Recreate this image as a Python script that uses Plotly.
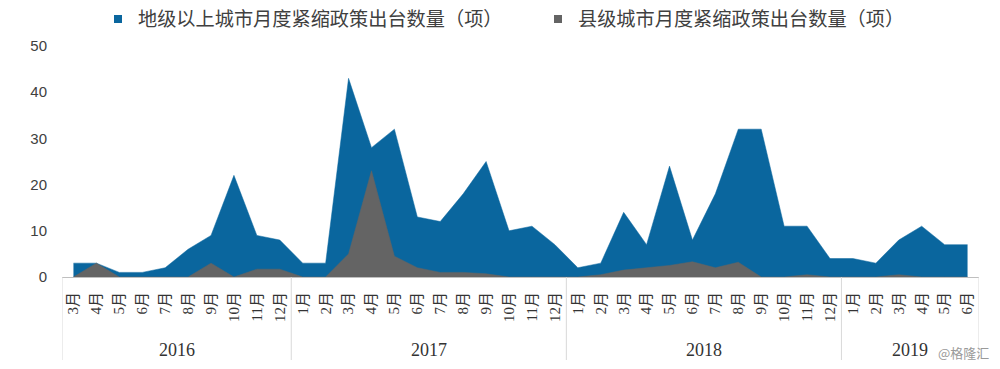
import plotly.graph_objects as go

# ---- data ----
years = ["2016", "2017", "2018", "2019"]
months_2016 = ["3月", "4月", "5月", "6月", "7月", "8月", "9月", "10月", "11月", "12月"]
months_2017 = ["1月", "2月", "3月", "4月", "5月", "6月", "7月", "8月", "9月", "10月", "11月", "12月"]
months_2018 = ["1月", "2月", "3月", "4月", "5月", "6月", "7月", "8月", "9月", "10月", "11月", "12月"]
months_2019 = ["1月", "2月", "3月", "4月", "5月", "6月"]

prefecture_counts = [3, 3, 1, 1, 2, 6, 9, 22, 9, 8,
                     3, 3, 43, 28, 32, 13, 12, 18, 25, 10, 11, 7,
                     2, 3, 14, 7, 24, 8, 18, 32, 32, 11, 11, 4,
                     4, 3, 8, 11, 7, 7]
county_counts = [0, 3, 0, 0, 0, 0, 3, 0, 1.7, 1.7,
                 0, 0, 5, 23, 4.5, 2, 1, 1, 0.7, 0, 0, 0,
                 0, 0.5, 1.5, 2, 2.5, 3.3, 2, 3.2, 0, 0, 0.5, 0,
                 0, 0, 0.5, 0, 0, 0]

series_names = ["地级以上城市月度紧缩政策出台数量（项）", "县级城市月度紧缩政策出台数量（项）"]
y_ticks = [0, 10, 20, 30, 40, 50]

# ---- build ----
month_groups = [months_2016, months_2017, months_2018, months_2019]
labels = [m for g in month_groups for m in g]
xs = list(range(len(labels)))

BLUE = "#0A669E"
GRAY = "#646464"

W, H = 1000, 369
L, R, T, B = 62, 979, 46, 277
PW, PH = R - L, B - T


def px_(pix):
    return (pix - L) / PW


def py(pix):
    return (B - pix) / PH


fig = go.Figure()
fig.add_trace(go.Scatter(x=xs, y=prefecture_counts, mode="lines", fill="tozeroy",
                         line=dict(color=BLUE, width=0.5), fillcolor=BLUE,
                         showlegend=False, hoverinfo="skip"))
fig.add_trace(go.Scatter(x=xs, y=county_counts, mode="lines", fill="tozeroy",
                         line=dict(color=GRAY, width=0.5), fillcolor=GRAY,
                         showlegend=False, hoverinfo="skip"))
# legend entries with square symbols
for name, col, lg in zip(series_names, [BLUE, GRAY], ["legend", "legend2"]):
    fig.add_trace(go.Scatter(x=[None], y=[None], mode="markers", name=name, legend=lg,
                             marker=dict(symbol="square", size=8, color=col)))

# year group separators and labels
start = 0
bounds = [-0.5]
for g in month_groups:
    start += len(g)
    bounds.append(start - 0.5)
for b in bounds:
    fig.add_shape(type="line", xref="x", yref="paper", x0=b, x1=b, y0=0, y1=py(360),
                  line=dict(color="#D9D9D9", width=1))
for i, yr in enumerate(years):
    cx = (bounds[i] + bounds[i + 1]) / 2
    fig.add_annotation(x=cx, xref="x", y=py(350), yref="paper", text=yr, showarrow=False,
                       font=dict(family="Liberation Serif, DejaVu Serif", size=18, color="#333333"),
                       yanchor="middle")

fig.add_annotation(xref="paper", yref="paper", x=px_(991), y=py(352), text="@格隆汇",
                   showarrow=False, xanchor="right", yanchor="middle",
                   font=dict(family="Noto Sans CJK SC", size=13, color="#9A9A9A"))

legend_font = dict(family="Noto Sans CJK SC", size=19.2, color="#404040")
fig.update_layout(
    width=W, height=H,
    margin=dict(l=L, r=W - R, t=T, b=H - B, autoexpand=False),
    plot_bgcolor="white", paper_bgcolor="white",
    legend=dict(orientation="h", x=px_(98), xanchor="left", y=py(0), yanchor="top",
                font=legend_font, bgcolor="rgba(0,0,0,0)", borderwidth=0),
    legend2=dict(orientation="h", x=px_(538), xanchor="left", y=py(0), yanchor="top",
                 font=legend_font, bgcolor="rgba(0,0,0,0)", borderwidth=0),
    xaxis=dict(range=[-0.5, len(labels) - 0.5], tickmode="array", tickvals=xs, ticktext=labels,
               tickangle=-90, showgrid=False, zeroline=False, showline=True, linecolor="#BFBFBF",
               linewidth=1, ticks="", automargin=False, ticklabelstandoff=8,
               tickfont=dict(family="Liberation Serif, Noto Sans CJK SC", size=15, color="#333333")),
    yaxis=dict(range=[0, 50], tickvals=y_ticks, showgrid=False, zeroline=False, showline=False,
               ticks="", ticklabelstandoff=14, automargin=False,
               tickfont=dict(family="Liberation Sans, Arial", size=15, color="#404040")),
)

fig.write_html("out.html", config={"displayModeBar": False},
               post_script="document.body.style.margin='0px';")
